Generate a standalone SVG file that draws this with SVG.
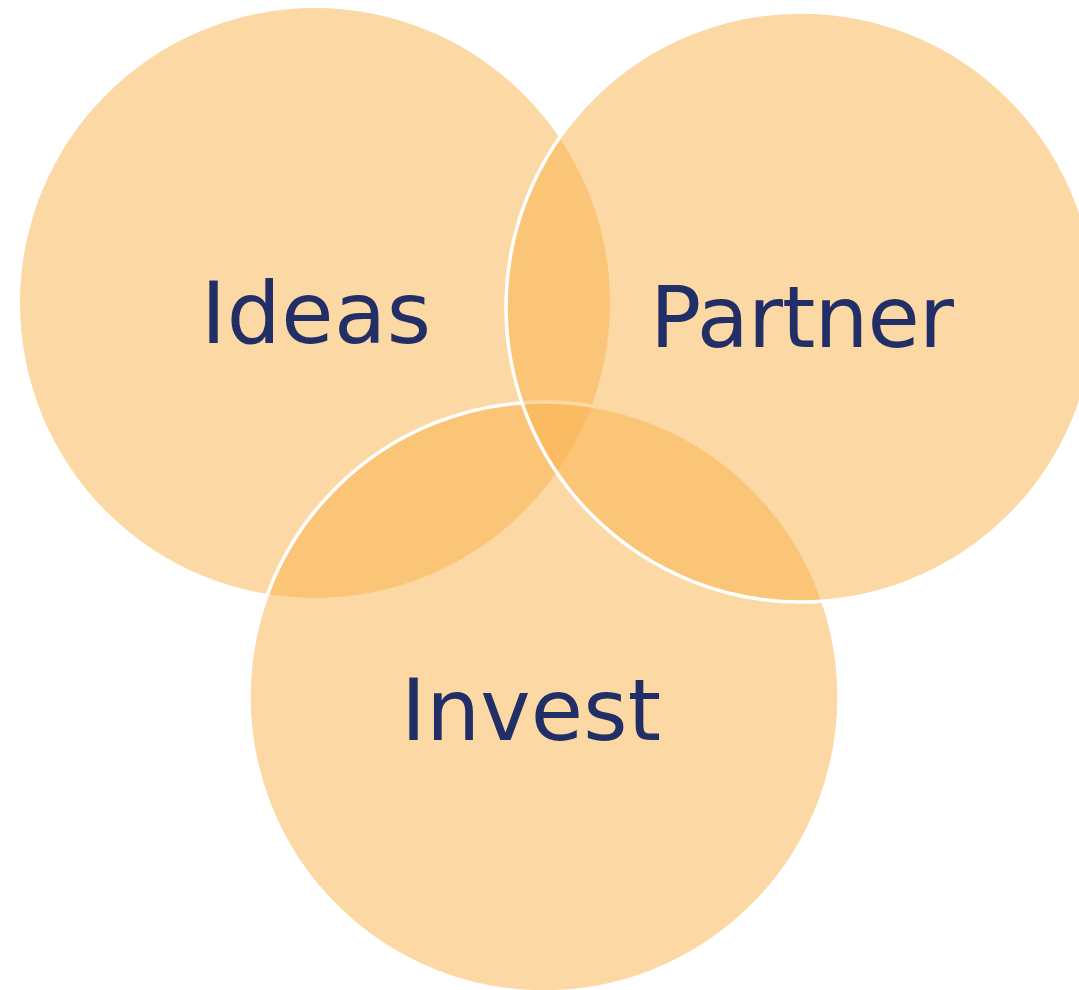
<svg xmlns="http://www.w3.org/2000/svg" width="1079" height="990" viewBox="0 0 1079 990">
<style>
.c{fill:#F9B24C;fill-opacity:0.5}
.s{stroke:#FFFFFF;stroke-width:3.5}
.t{font-family:"DejaVu Sans",Verdana,sans-serif;font-size:85px;fill:#222E66;text-anchor:middle}
</style>
<rect width="1079" height="990" fill="#FFFFFF"/>
<g id="ideas">
<circle class="c" cx="315" cy="303" r="295"/>
</g>
<g id="invest">
<circle class="c s" cx="544" cy="697" r="295"/>
</g>
<g id="partner">
<circle class="c s" cx="801" cy="307" r="295"/>
</g>
<g id="labels">
<text class="t" x="316" y="343" textLength="230" lengthAdjust="spacing">Ideas</text>
<text class="t" x="802" y="347" textLength="304" lengthAdjust="spacing">Partner</text>
<text class="t" x="531" y="740" textLength="260" lengthAdjust="spacing">Invest</text>
</g>
<g id="connectors"/>
</svg>
